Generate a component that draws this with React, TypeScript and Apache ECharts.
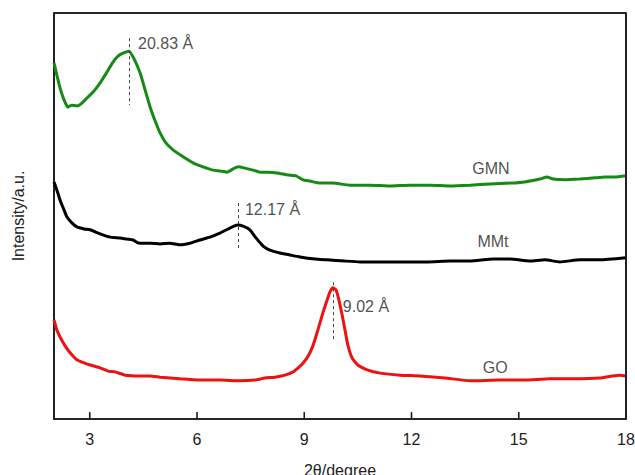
import React, { useEffect, useRef } from "react";
import * as echarts from "echarts";

const xTicks = [3, 6, 9, 12, 15, 18];

const gmnX = [2.00, 2.08, 2.17, 2.28, 2.39, 2.50, 2.64, 2.78, 2.95, 3.12, 3.29, 3.45, 3.65, 3.79, 3.93, 4.10, 4.24, 4.41, 4.55, 4.69, 4.83, 4.97, 5.13, 5.33, 5.58, 5.89, 6.17, 6.45, 6.64, 6.84, 7.01, 7.15, 7.34, 7.57, 7.76, 7.99, 8.24, 8.55, 8.77, 8.97, 9.16, 9.44, 9.80, 10.28, 10.84, 11.40, 11.96, 12.52, 13.08, 13.64, 14.20, 14.76, 15.17, 15.59, 15.79, 15.96, 16.29, 16.71, 17.13, 17.41, 17.69, 18.00];
const gmnY = [87.7, 84.7, 81.5, 78.6, 76.8, 77.3, 77.1, 77.8, 79.3, 80.8, 82.8, 85.0, 87.9, 89.4, 90.1, 90.6, 88.7, 85.2, 81.0, 76.8, 73.4, 70.4, 68.0, 66.3, 64.8, 63.1, 62.1, 61.3, 61.1, 60.8, 61.6, 62.1, 61.8, 61.3, 60.8, 60.8, 60.6, 60.1, 59.9, 58.9, 58.6, 58.1, 58.1, 57.6, 57.6, 57.4, 57.6, 57.6, 57.4, 57.6, 57.9, 58.1, 58.4, 59.1, 59.6, 59.1, 58.9, 59.1, 59.4, 59.6, 59.6, 59.9];

const mmtX = [2.00, 2.08, 2.17, 2.28, 2.36, 2.50, 2.64, 2.84, 3.01, 3.29, 3.57, 3.85, 4.04, 4.21, 4.32, 4.41, 4.69, 4.97, 5.24, 5.52, 5.80, 6.08, 6.36, 6.64, 6.87, 7.03, 7.15, 7.29, 7.48, 7.65, 7.85, 8.04, 8.32, 8.60, 8.88, 9.30, 9.64, 10.14, 10.56, 11.12, 11.68, 12.43, 13.08, 13.64, 14.28, 14.76, 15.31, 15.73, 16.15, 16.71, 17.27, 18.00];
const mmtY = [58.4, 56.4, 53.9, 51.5, 49.8, 48.3, 47.3, 46.8, 46.6, 45.6, 44.8, 44.6, 44.3, 44.1, 43.5, 43.3, 43.3, 43.1, 43.3, 42.9, 43.3, 44.1, 44.8, 45.8, 46.8, 47.5, 47.8, 47.5, 46.6, 44.6, 42.6, 41.6, 40.9, 40.4, 39.9, 39.4, 39.2, 38.9, 38.7, 38.7, 38.7, 38.7, 38.9, 38.9, 39.4, 39.4, 38.9, 39.2, 38.7, 39.2, 39.2, 39.7];

const goX = [2.00, 2.08, 2.17, 2.31, 2.45, 2.64, 2.84, 3.01, 3.29, 3.51, 3.71, 3.99, 4.41, 4.69, 4.97, 5.52, 6.08, 6.64, 7.20, 7.62, 7.90, 8.18, 8.46, 8.69, 8.83, 8.97, 9.11, 9.25, 9.38, 9.52, 9.64, 9.72, 9.80, 9.89, 9.97, 10.06, 10.14, 10.22, 10.34, 10.50, 10.76, 11.12, 11.68, 12.24, 12.94, 13.64, 14.48, 15.17, 15.87, 16.57, 17.27, 17.61, 17.83, 18.00];
const goY = [24.4, 21.9, 20.2, 18.0, 16.3, 14.6, 13.8, 13.3, 12.6, 11.8, 11.6, 10.8, 10.6, 10.6, 10.3, 9.9, 9.6, 9.6, 9.4, 9.6, 10.1, 10.3, 10.8, 11.6, 12.6, 13.8, 15.5, 18.2, 21.9, 26.1, 29.3, 31.3, 32.3, 31.8, 29.3, 25.6, 21.9, 18.2, 15.0, 13.3, 12.1, 11.3, 10.8, 10.6, 10.1, 9.4, 9.6, 9.6, 9.9, 9.9, 10.1, 10.6, 10.8, 10.6];

const peakLabels = ["20.83 Å", "12.17 Å", "9.02 Å"];
const peakX = [4.1, 7.15, 9.82];
const peakLineY = [[93.8, 77.3], [53.2, 41.6], [33.7, 19.0]];
const peakTextPos = [[4.35, 92.6], [7.34, 51.5], [10.08, 27.6]];

const seriesNames = ["GMN", "MMt", "GO"];
const seriesColors = ["#158a15", "#000000", "#ee1111"];
const nameLabelPos = [[14.22, 61.8], [14.28, 43.6], [14.34, 12.8]];

const xRange = [2, 18];
const yRange = [0, 100];
const tickLen = 1.7;

const FONT = "'Liberation Sans', Arial, sans-serif";

export default function App() {
  const ref = useRef<HTMLDivElement>(null);
  useEffect(() => {
    if (!ref.current) return;
    const chart = echarts.init(ref.current, null, { renderer: "svg" });
    const xs = [gmnX, mmtX, goX];
    const ys = [gmnY, mmtY, goY];
    const lineSeries = seriesNames.map((n, i) => ({
      type: "line",
      name: n,
      data: xs[i].map((x, j) => [x, ys[i][j]]),
      showSymbol: false,
      symbol: "none",
      smooth: 0.15,
      lineStyle: { color: seriesColors[i], width: 3 },
      z: 3,
    }));
    const segs: number[][][] = [
      [[xRange[0], yRange[1]], [xRange[1], yRange[1]]],
      [[xRange[1], yRange[0]], [xRange[1], yRange[1]]],
      ...xTicks.map((t) => [[t, yRange[0]], [t, yRange[0] + tickLen]]),
    ];
    const frameSeries = segs.map((s, k) => ({
      type: "line",
      name: "edge" + k,
      data: s,
      showSymbol: false,
      symbol: "none",
      clip: false,
      lineStyle: { color: "#1a1a1a", width: 1.6 },
      z: 3,
    }));
    const dashSeries = {
      type: "line",
      data: [],
      markLine: {
        symbol: "none",
        silent: true,
        label: { show: false },
        lineStyle: { color: "#444", type: [3, 3], width: 1 },
        data: peakX.map((x, i) => [
          { coord: [x, peakLineY[i][0]] },
          { coord: [x, peakLineY[i][1]] },
        ]),
      },
    };
    const peakText = {
      type: "scatter",
      symbolSize: 0,
      data: peakTextPos.map((p, i) => ({ value: p, name: peakLabels[i] })),
      label: {
        show: true,
        position: "right",
        distance: 0,
        formatter: (p: any) => p.name,
        color: "#222",
        fontSize: 16,
        fontFamily: FONT,
      },
      silent: true,
    };
    const nameText = {
      type: "scatter",
      symbolSize: 0,
      data: nameLabelPos.map((p, i) => ({ value: p, name: seriesNames[i] })),
      label: {
        show: true,
        position: "inside",
        formatter: (p: any) => p.name,
        color: "#222",
        fontSize: 16,
        fontFamily: FONT,
      },
      silent: true,
    };
    const boxLine = { show: true, onZero: false, lineStyle: { color: "#1a1a1a", width: 1.6 } };
    chart.setOption({
      animation: false,
      backgroundColor: "#ffffff",
      grid: {
        left: 54,
        right: 9,
        top: 13,
        bottom: 56,
        outerBoundsMode: "none",
        containLabel: false,
        show: true,
        borderColor: "#1a1a1a",
        borderWidth: 1.6,
        backgroundColor: "rgba(255,255,255,0)",
      },
      xAxis: {
        type: "value",
        min: xRange[0],
        max: xRange[1],
        name: "2θ/degree",
        nameLocation: "middle",
        nameGap: 43,
        nameTextStyle: { color: "#222", fontSize: 16, fontFamily: FONT },
        axisLine: boxLine,
        axisTick: { show: false },
        axisLabel: {
          customValues: xTicks,
          color: "#222",
          fontSize: 16,
          fontFamily: FONT,
          margin: 12,
        },
        splitLine: { show: false },
      },
      yAxis: {
        type: "value",
        min: yRange[0],
        max: yRange[1],
        name: "Intensity/a.u.",
        nameLocation: "middle",
        nameGap: 28,
        nameTextStyle: { color: "#222", fontSize: 16, fontFamily: FONT },
        axisLine: boxLine,
        axisTick: { show: false },
        axisLabel: { show: false },
        splitLine: { show: false },
      },
      series: [...lineSeries, ...frameSeries, dashSeries, peakText, nameText],
    });
    return () => chart.dispose();
  }, []);
  return <div ref={ref} style={{ width: 635, height: 475, position: "fixed", left: 0, top: 0 }} />;
}
